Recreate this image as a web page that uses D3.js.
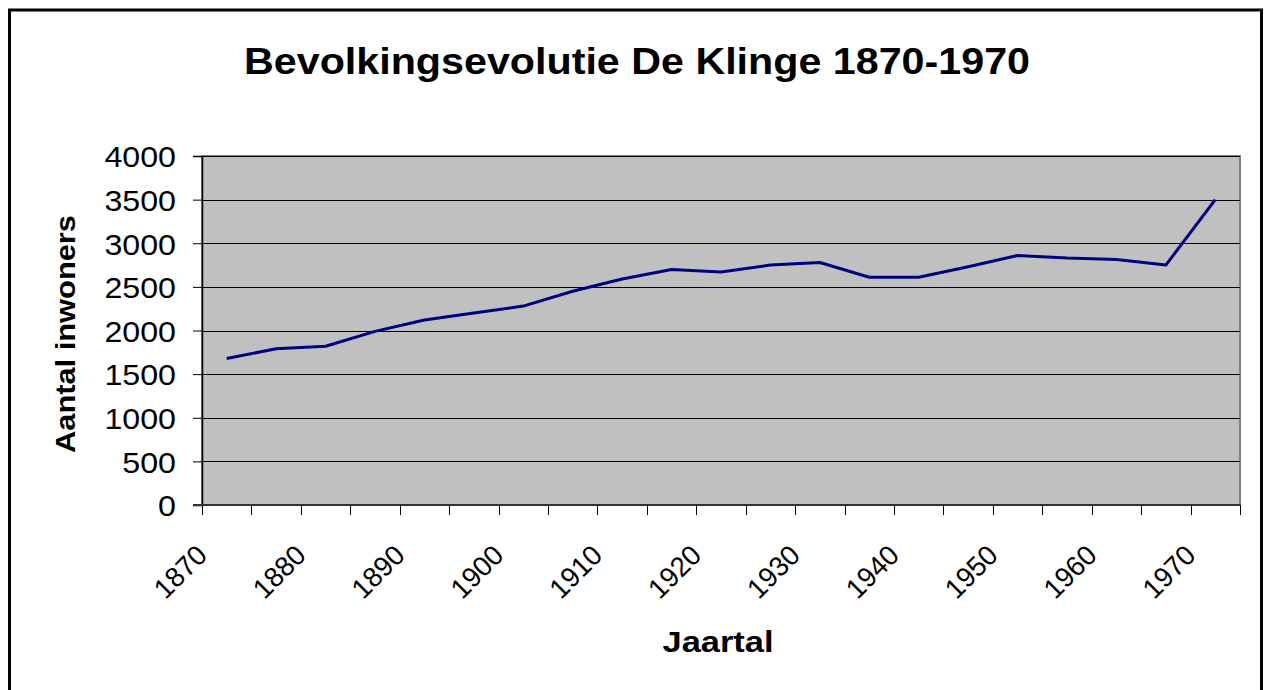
<!DOCTYPE html>
<html>
<head>
<meta charset="utf-8">
<script src="https://cdn.jsdelivr.net/npm/d3@7"></script>
<style>
  body { margin: 0; background: #fff; }
  text { font-family: "Liberation Sans", Arial, sans-serif; fill: #000; }
</style>
</head>
<body>
<script>
// Bevolkingsevolutie De Klinge
var jaren = [1870, 1875, 1880, 1885, 1890, 1895, 1900, 1905, 1910, 1915, 1920,
             1925, 1930, 1935, 1940, 1945, 1950, 1955, 1960, 1965, 1970];
var inwoners = [1680, 1790, 1820, 1990, 2120, 2200, 2280, 2450, 2590, 2700, 2670,
                2750, 2780, 2610, 2610, 2730, 2860, 2830, 2815, 2750, 3500];
var yTicks = [0, 500, 1000, 1500, 2000, 2500, 3000, 3500, 4000];
var xLabels = [1870, 1880, 1890, 1900, 1910, 1920, 1930, 1940, 1950, 1960, 1970];

var larg = 1265, haut = 690;
var plot = {left: 202, right: 1240, top: 156, bottom: 505};

var svg = d3.select("body").append("svg")
  .attr("width", larg)
  .attr("height", haut);

// cadre du graphique
svg.append("rect")
  .attr("x", 9.5).attr("y", 10)
  .attr("width", 1252).attr("height", 700)
  .attr("fill", "none")
  .attr("stroke", "#000")
  .attr("stroke-width", 3);

var x = d3.scaleBand()
  .domain(jaren)
  .range([plot.left, plot.right])
  .padding(0);

var y = d3.scaleLinear()
  .domain([0, 4000])
  .range([plot.bottom, plot.top]);

// fond gris
svg.append("rect")
  .attr("x", plot.left).attr("y", plot.top)
  .attr("width", plot.right - plot.left)
  .attr("height", plot.bottom - plot.top)
  .attr("fill", "#c0c0c0")
  .attr("stroke", "#808080")
  .attr("stroke-width", 2);

// lignes horizontales
svg.selectAll("line.grid")
  .data(yTicks.slice(1))
  .enter()
  .append("line")
  .attr("class", "grid")
  .attr("x1", plot.left).attr("x2", plot.right)
  .attr("y1", function(d) { return Math.round(y(d)) + 0.5; })
  .attr("y2", function(d) { return Math.round(y(d)) + 0.5; })
  .attr("stroke", "#000")
  .attr("stroke-width", 1);

// axe Y
var yAxis = svg.append("g")
  .attr("transform", "translate(" + plot.left + ",0)")
  .call(d3.axisLeft(y).tickValues(yTicks).tickFormat(d3.format("d")).tickSize(9).tickPadding(17));
yAxis.select(".domain").attr("stroke", "#000").attr("stroke-width", 1.5);
yAxis.selectAll(".tick line").attr("stroke", "#000");
yAxis.selectAll(".tick text")
  .attr("font-size", "30px")
  .attr("font-family", "Liberation Sans, Arial, sans-serif")
  .attr("textLength", function(d) { return String(d).length * 17.9; })
  .attr("lengthAdjust", "spacingAndGlyphs")
  .attr("dy", "0.36em");

// axe X (bornes des catégories)
var bornes = jaren.map(function(d) { return x(d); }).concat([plot.right]);
svg.selectAll("line.xtick")
  .data(bornes)
  .enter()
  .append("line")
  .attr("class", "xtick")
  .attr("x1", function(d) { return Math.round(d) + 0.5; })
  .attr("x2", function(d) { return Math.round(d) + 0.5; })
  .attr("y1", plot.bottom)
  .attr("y2", plot.bottom + 10)
  .attr("stroke", "#000");
svg.append("line")
  .attr("x1", plot.left - 9).attr("x2", plot.right)
  .attr("y1", plot.bottom).attr("y2", plot.bottom)
  .attr("stroke", "#333").attr("stroke-width", 2);

// libellés X, tournés de 45°
svg.selectAll("text.xlab")
  .data(xLabels)
  .enter()
  .append("text")
  .attr("class", "xlab")
  .text(function(d) { return d; })
  .attr("font-size", "28px")
  .attr("text-anchor", "end")
  .attr("textLength", 61)
  .attr("lengthAdjust", "spacingAndGlyphs")
  .attr("transform", function(d) {
    var cx = x(d) + x.bandwidth() / 2 - 18;
    return "translate(" + cx + "," + 557 + ") rotate(-45)";
  });

// la courbe
var ligne = d3.line()
  .x(function(d, i) { return x(jaren[i]) + x.bandwidth() / 2; })
  .y(function(d) { return y(d); });

svg.append("path")
  .datum(inwoners)
  .attr("d", ligne)
  .attr("fill", "none")
  .attr("stroke", "#000080")
  .attr("stroke-width", 3)
  .attr("stroke-linejoin", "round");

// titres
svg.append("text")
  .text("Bevolkingsevolutie De Klinge 1870-1970")
  .attr("x", 637).attr("y", 74)
  .attr("text-anchor", "middle")
  .attr("font-size", "36px")
  .attr("font-weight", "bold")
  .attr("textLength", 786)
  .attr("lengthAdjust", "spacingAndGlyphs");

svg.append("text")
  .text("Aantal inwoners")
  .attr("text-anchor", "middle")
  .attr("font-size", "28px")
  .attr("font-weight", "bold")
  .attr("textLength", 238)
  .attr("lengthAdjust", "spacingAndGlyphs")
  .attr("transform", "translate(75,334) rotate(-90)");

svg.append("text")
  .text("Jaartal")
  .attr("x", 718).attr("y", 652)
  .attr("text-anchor", "middle")
  .attr("font-size", "30px")
  .attr("font-weight", "bold")
  .attr("textLength", 111)
  .attr("lengthAdjust", "spacingAndGlyphs");
</script>
</body>
</html>
